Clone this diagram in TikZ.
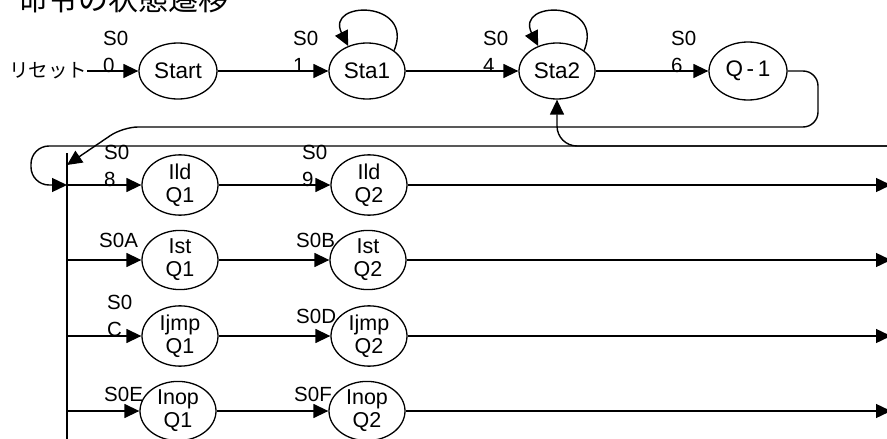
\documentclass[tikz,border=0pt]{standalone}
\usepackage{fontspec}
\setmainfont{Liberation Sans}
\newfontfamily\jpfont{Noto Sans CJK JP}
\usetikzlibrary{shapes.geometric,arrows.meta}

\begin{document}
\begin{tikzpicture}[x=1pt,y=-1pt,
  state/.style={ellipse,draw,line width=1.3pt,minimum width=76pt,minimum height=56pt,
    inner sep=0pt,align=center,font=\fontsize{21.5}{23}\selectfont},
  lbl/.style={anchor=north west,inner sep=0pt,align=left,font=\fontsize{20.5}{27}\selectfont},
  link/.style={line width=1.4pt,-{Triangle[length=15pt,width=14pt]}},
  wire/.style={line width=1.4pt}]
\useasboundingbox (0,0) rectangle (887,439);

% title (runs off the top edge)
\node[anchor=south west,inner sep=0pt,font=\jpfont\fontsize{30}{30}\selectfont] (title) at (18,13) {命令の状態遷移};

% start-up sequence
\node[anchor=west,inner sep=0pt,font=\jpfont\fontsize{19.5}{19.5}\selectfont] (reset) at (9,71) {リセット};
\node[state,minimum width=78pt,font=\fontsize{22.5}{23}\selectfont] (start) at (178,71) {Start};
\node[state,font=\fontsize{22.5}{23}\selectfont] (sta1) at (367,71) {Sta1};
\node[state,font=\fontsize{22.5}{23}\selectfont] (sta2) at (557,71) {Sta2};
\node[state,minimum width=78pt,minimum height=58pt,font=\fontsize{22.5}{23}\selectfont] (qm1) at (748,71) {Q{\,}-{\,}1};

\node[lbl] (l0) at (103,31) {S0\\0};
\node[lbl] (l1) at (293,31) {S0\\1};
\node[lbl] (l4) at (483,31) {S0\\4};
\node[lbl] (l6) at (671,31) {S0\\6};

\draw[link] (reset.east) -- (start);
\draw[link] (start) -- (sta1);
\draw[link] (sta1) -- (sta2);
\draw[link] (sta2) -- (qm1);
\draw[link] (sta1.37) .. controls (415,0) and (325,0) .. (sta1.127);
\draw[link] (sta2.37) .. controls (605,0) and (515,0) .. (sta2.127);

% instruction bus
\coordinate (bustop) at (67,153);
\coordinate (busbot) at (67,445);
\coordinate (qin) at (67,165);
\coordinate (busA) at (67,185);
\coordinate (busB) at (67,260);
\coordinate (busC) at (67,336);
\coordinate (busD) at (67,411);
\coordinate (rin) at (890,146);
\draw[wire] (bustop) -- (busbot);

\draw[link,rounded corners=15pt] (qm1.east) -- (818,71) -- (818,127) -- (123,127) -- (qin);
\draw[link,rounded corners=18pt] (rin) -- (31,146) -- (31,185) -- (busA);
\draw[link,rounded corners=20pt] (rin) -- (557,146) -- (sta2.south);

% instruction rows
\node[state] (ldq1) at (180,185) {Ild\\Q1};
\node[state] (ldq2) at (369,185) {Ild\\Q2};
\node[state] (stq1) at (180,260) {Ist\\Q1};
\node[state] (stq2) at (368,260) {Ist\\Q2};
\node[state] (jpq1) at (180,336) {Ijmp\\Q1};
\node[state] (jpq2) at (369,336) {Ijmp\\Q2};
\node[state] (npq1) at (178,411) {Inop\\Q1};
\node[state] (npq2) at (367,411) {Inop\\Q2};

\node[lbl] (l8) at (104,145) {S0\\8};
\node[lbl] (l9) at (302,145) {S0\\9};
\node[lbl] (la) at (99,233) {S0A};
\node[lbl] (lb) at (296,233) {S0B};
\node[lbl] (lc) at (107,295) {S0\\C};
\node[lbl] (ld) at (296,309) {S0D};
\node[lbl] (le) at (104,387) {S0E};
\node[lbl] (lf) at (294,387) {S0F};

\coordinate (endA) at (891,185);
\coordinate (endB) at (891,260);
\coordinate (endC) at (891,336);
\coordinate (endD) at (891,411);

\draw[link] (busA) -- (ldq1);
\draw[link] (ldq1) -- (ldq2);
\draw[link] (ldq2) -- (endA);
\draw[link] (busB) -- (stq1);
\draw[link] (stq1) -- (stq2);
\draw[link] (stq2) -- (endB);
\draw[link] (busC) -- (jpq1);
\draw[link] (jpq1) -- (jpq2);
\draw[link] (jpq2) -- (endC);
\draw[link] (busD) -- (npq1);
\draw[link] (npq1) -- (npq2);
\draw[link] (npq2) -- (endD);
\end{tikzpicture}
\end{document}
